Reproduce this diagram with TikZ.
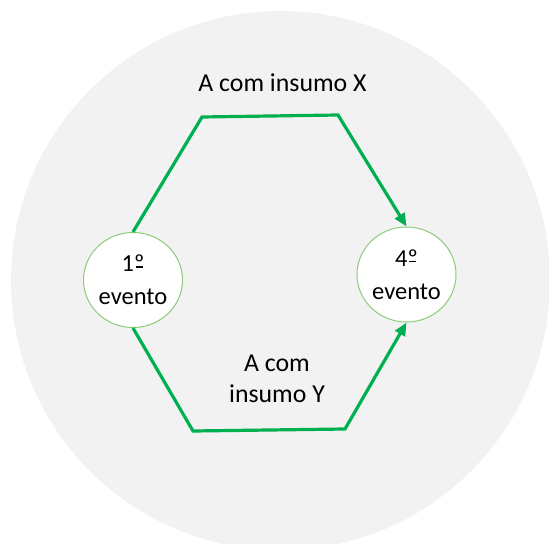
\documentclass[tikz,border=0pt]{standalone}
\usepackage{fontspec}
\setmainfont{Carlito}
\usetikzlibrary{arrows.meta,shapes.geometric}
\definecolor{bgcircle}{HTML}{F2F2F2}
\definecolor{flowgreen}{HTML}{00B050}
\definecolor{nodegreen}{HTML}{8CCB7A}
\newcommand\myordm{\ooalign{º\cr\hfil\rule[0.17em]{0.3em}{0.055em}\hfil\cr}}
\tikzset{
  evnode/.style={ellipse, draw=nodegreen, line width=1bp, fill=white,
    minimum width=99bp, minimum height=95bp, inner sep=0pt,
    align=center, font=\fontsize{24.5bp}{33bp}\selectfont},
  flow/.style={draw=flowgreen, line width=3.2bp, line join=miter,
    -{Triangle[length=13bp,width=11bp]}},
  lbl/.style={font=\fontsize{25.8bp}{31bp}\selectfont, anchor=base, inner sep=0pt}
}
\begin{document}
\begin{tikzpicture}[x=1bp,y=-1bp]
\useasboundingbox (0,0) rectangle (549,544);
\begin{scope}
\clip (0,0) rectangle (549,544);
\fill[bgcircle] (280.5,280.5) circle[radius=269.5bp];
\end{scope}
\node[evnode] (n1) at (133,280) {1\myordm\\evento};
\node[evnode] (n4) at (406.5,274.5) {4\myordm\\evento};
\coordinate (t1) at (202,117);
\coordinate (t2) at (338,115);
\coordinate (b1) at (193,431);
\coordinate (b2) at (345,429);
\draw[flow] (n1.north) -- (t1) -- (t2) -- (n4.north);
\draw[flow] (n1.south) -- (b1) -- (b2) -- (n4.south);
\node[lbl] (lx) at (282.5,91.5) {A com insumo X};
\node[lbl] (ly1) at (277,371) {A com};
\node[lbl] (ly2) at (277,402) {insumo Y};
\end{tikzpicture}
\end{document}
